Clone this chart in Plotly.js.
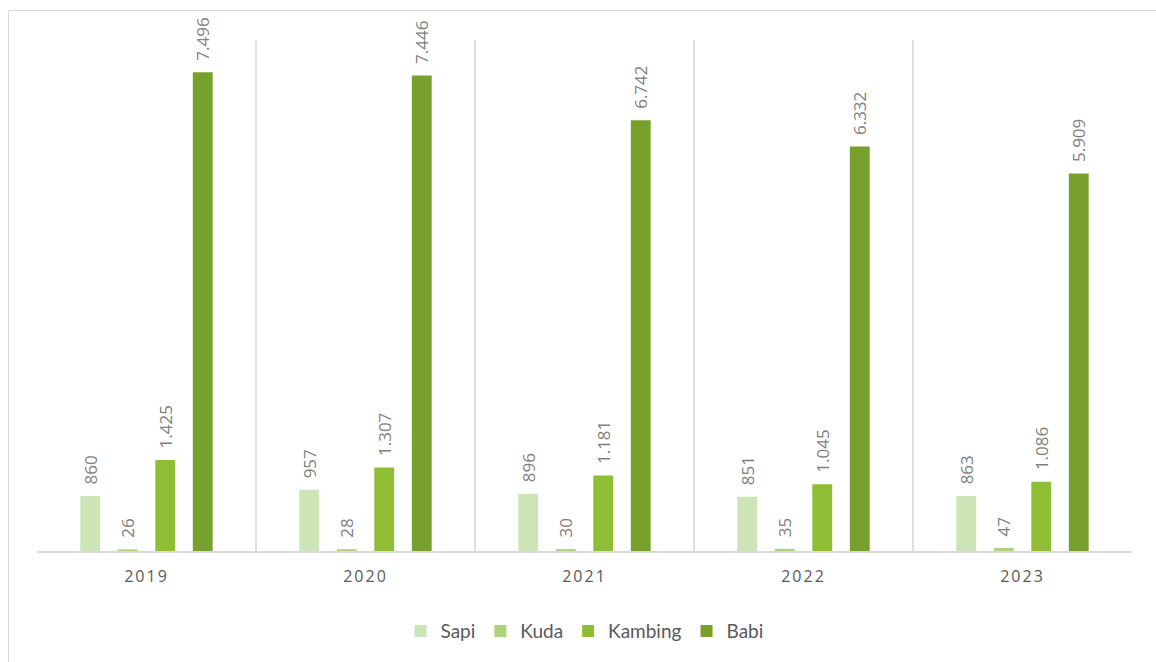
<!DOCTYPE html>
<html>
<head>
<meta charset="utf-8">
<script src="https://cdn.plot.ly/plotly-3.0.1.min.js"></script>
<style>
  html, body { margin: 0; padding: 0; overflow: hidden; background: #fff; }
  #chart { width: 1156px; height: 662px; }
  #frame { position: absolute; left: 8px; top: 10px; width: 1300px; height: 800px;
           border-top: 1.5px solid #d9d9d9; border-left: 1.5px solid #d9d9d9; pointer-events: none; }
  .xtick text { letter-spacing: 2px; }
</style>
</head>
<body>
<div id="chart"></div>
<div id="frame"></div>
<script>
const years = ['2019', '2020', '2021', '2022', '2023'];
const sapi = [860, 957, 896, 851, 863];
const kuda = [26, 28, 30, 35, 47];
const kambing = [1425, 1307, 1181, 1045, 1086];
const babi = [7496, 7446, 6742, 6332, 5909];

const seriesNames = ['Sapi', 'Kuda', 'Kambing', 'Babi'];
const seriesValues = [sapi, kuda, kambing, babi];
const seriesColors = ['#cde4b6', '#acd47c', '#8fbe35', '#78a02c'];

const traces = seriesNames.map((name, i) => ({
  type: 'bar',
  name: name,
  x: years,
  y: seriesValues[i],
  marker: { color: seriesColors[i] },
  texttemplate: '\u2002%{y:,}',
  textposition: 'outside',
  textangle: -90,
  constraintext: 'none',
  cliponaxis: false,
  textfont: { family: 'Open Sans, sans-serif', size: 17, color: '#7f7f7f' },
  hoverinfo: 'x+y+name'
}));

const layout = {
  width: 1156,
  height: 662,
  margin: { l: 37, r: 24, t: 40, b: 111 },
  paper_bgcolor: '#ffffff',
  plot_bgcolor: '#ffffff',
  separators: ',.',
  barmode: 'group',
  bargap: 0.315,
  bargroupgap: 0.47,
  showlegend: true,
  legend: {
    orientation: 'h',
    x: 0.5, xanchor: 'center',
    y: -0.157, yanchor: 'middle',
    font: { family: 'Lato, sans-serif', size: 19, color: '#595959' },
    itemwidth: 30,
    traceorder: 'normal'
  },
  xaxis: {
    type: 'category',
    tickson: 'boundaries',
    showgrid: true,
    gridcolor: '#dedede',
    gridwidth: 1.5,
    showline: true,
    linecolor: '#d9d9d9',
    linewidth: 1.5,
    ticks: '',
    tickfont: { family: 'Open Sans, sans-serif', size: 16, color: '#595959' },
    ticklabelstandoff: 10,
    fixedrange: true
  },
  yaxis: {
    range: [0, 8000],
    showgrid: false,
    showticklabels: false,
    zeroline: false,
    showline: false,
    fixedrange: true
  }
};

Plotly.newPlot('chart', traces, layout, { displayModeBar: false, staticPlot: true });
</script>
</body>
</html>
